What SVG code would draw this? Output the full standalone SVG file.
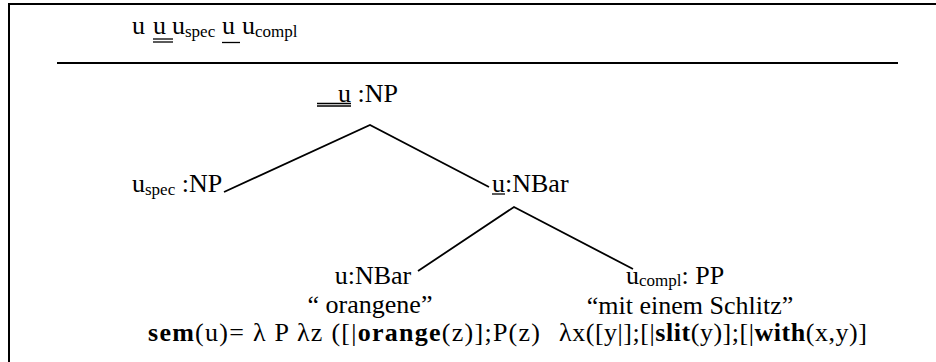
<svg xmlns="http://www.w3.org/2000/svg" width="936" height="362" viewBox="0 0 936 362">
<style>
text{font-family:"Liberation Serif","Times New Roman",Times,serif;font-size:26px;fill:#000}
.sub{font-size:17px}
.b{font-weight:bold}
.ln{stroke:#000;stroke-width:1.8;fill:none}
.ul{stroke:#000;stroke-width:1.3}
.frame{stroke:#000;stroke-width:2;fill:none}
</style>
<rect width="936" height="362" fill="#fff"/>
<g id="frame">
<path class="frame" d="M9,362 V4 H936"/>
<line class="ln" x1="57" y1="63" x2="898" y2="63"/>
</g>
<g id="header">
<text x="132" y="34">u</text>
<text x="153" y="34">u</text>
<line class="ul" x1="153" y1="39" x2="173" y2="39"/>
<line class="ul" x1="153" y1="42" x2="173" y2="42"/>
<text x="172" y="34">u<tspan class="sub" dy="3">spec</tspan></text>
<text x="222" y="34">u</text>
<line class="ul" x1="222" y1="42.5" x2="240" y2="42.5"/>
<text x="242" y="34">u<tspan class="sub" dy="3">compl</tspan></text>
</g>
<g id="root">
<text x="338" y="102">u :NP</text>
<line class="ul" x1="317" y1="103.5" x2="351" y2="103.5"/>
<line class="ul" x1="317" y1="106" x2="351" y2="106"/>
</g>
<g id="spec">
<text x="132" y="192">u<tspan class="sub" dy="3">spec</tspan><tspan dy="-3"> :NP</tspan></text>
</g>
<g id="nbar">
<text x="492" y="192">u:NBar</text>
<line class="ul" x1="492" y1="194" x2="505" y2="194"/>
</g>
<g id="head">
<text x="373" y="284" text-anchor="middle">u:NBar</text>
<text x="370" y="313" text-anchor="middle">“ orangene”</text>
<text x="148" y="341" textLength="392" lengthAdjust="spacing"><tspan class="b">sem</tspan>(u)= λ P λz ([|<tspan class="b">orange</tspan>(z)];P(z)</text>
</g>
<g id="compl">
<text x="626" y="284">u<tspan class="sub" dy="2">compl</tspan><tspan dy="-2">: PP</tspan></text>
<text x="690" y="314" text-anchor="middle">“mit einem Schlitz”</text>
<text x="559" y="341" textLength="308" lengthAdjust="spacing">λx([y|];[|<tspan class="b">slit</tspan>(y)];[|<tspan class="b">with</tspan>(x,y)]</text>
</g>
<g id="connectors">
<polyline class="ln" points="224,192 370,125 489,187"/>
<polyline class="ln" points="418,271 514,207 633,269"/>
</g>
</svg>
